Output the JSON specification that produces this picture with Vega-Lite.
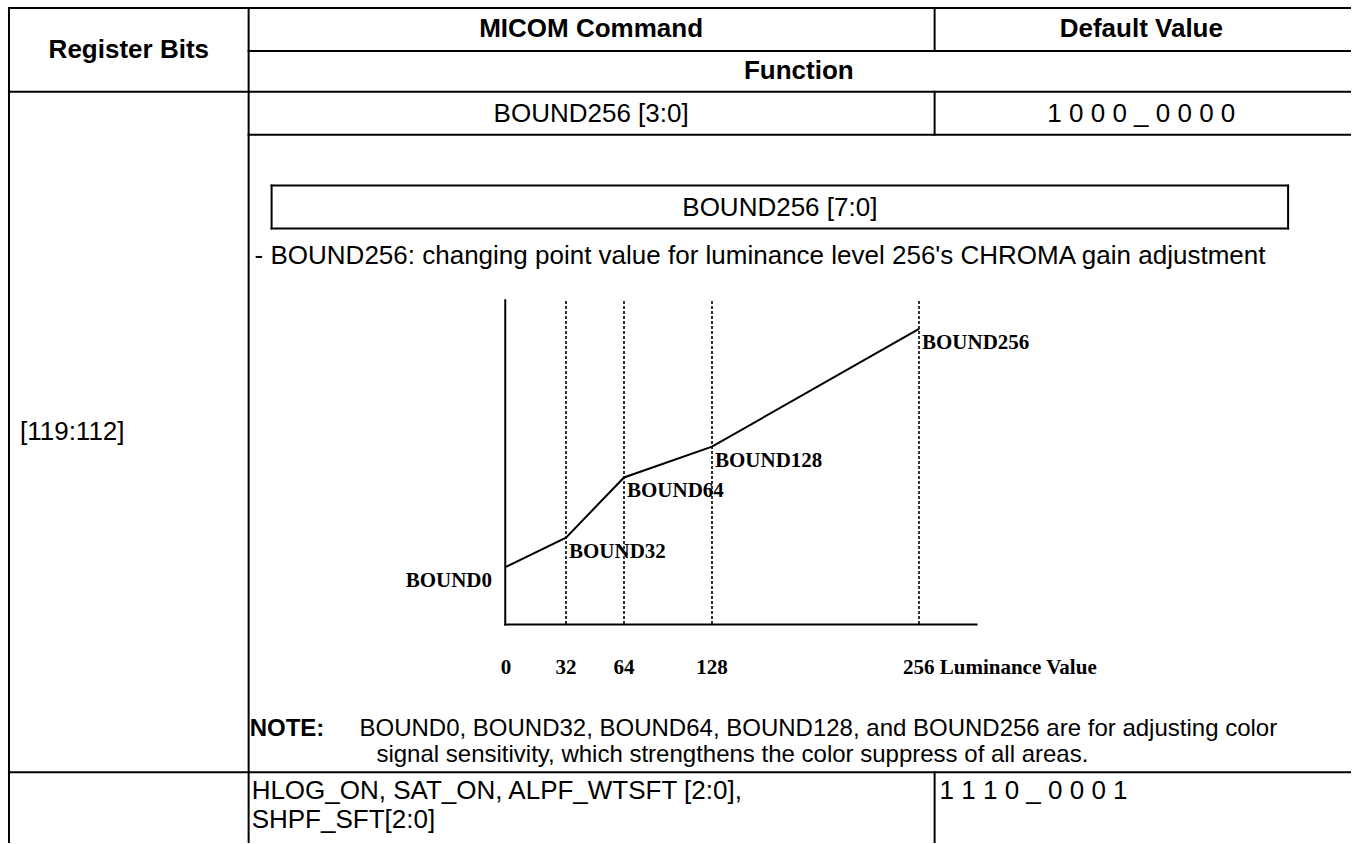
{
  "$schema": "https://vega.github.io/schema/vega-lite/v6.json",
  "width": 1352,
  "height": 844,
  "autosize": {"type": "fit", "contains": "padding"},
  "padding": 0,
  "background": "white",
  "config": {"view": {"stroke": null}},
  "datasets": {
    "grid": [
      {"x": 9, "y": 8, "x2": 1352, "y2": 8},
      {"x": 249, "y": 51, "x2": 1352, "y2": 51},
      {"x": 9, "y": 92, "x2": 1352, "y2": 92},
      {"x": 249, "y": 135, "x2": 1352, "y2": 135},
      {"x": 9, "y": 774, "x2": 1352, "y2": 774},
      {"x": 9, "y": 8, "x2": 9, "y2": 844},
      {"x": 249, "y": 8, "x2": 249, "y2": 844},
      {"x": 936, "y": 8, "x2": 936, "y2": 51},
      {"x": 936, "y": 92, "x2": 936, "y2": 135},
      {"x": 936, "y": 774, "x2": 936, "y2": 844},
      {"x": 272, "y": 186, "x2": 1290, "y2": 186},
      {"x": 272, "y": 229, "x2": 1290, "y2": 229},
      {"x": 272, "y": 186, "x2": 272, "y2": 229},
      {"x": 1290, "y": 186, "x2": 1290, "y2": 229},
      {"x": 506, "y": 301, "x2": 506, "y2": 626},
      {"x": 506, "y": 626, "x2": 978, "y2": 626}
    ],
    "texts": [
      {"role": "header", "x": 129, "y": 50, "text": "Register Bits"},
      {"role": "header", "x": 592, "y": 29, "text": "MICOM Command"},
      {"role": "header", "x": 1143, "y": 29, "text": "Default Value"},
      {"role": "header", "x": 800, "y": 71, "text": "Function"},
      {"role": "cell", "x": 592, "y": 114, "text": "BOUND256 [3:0]"},
      {"role": "cell", "x": 1143, "y": 114, "text": "1 0 0 0 _ 0 0 0 0"},
      {"role": "cell", "x": 781, "y": 208, "text": "BOUND256 [7:0]"},
      {"role": "cellLeft", "x": 20, "y": 433, "text": "[119:112]"},
      {"role": "cellLeft", "x": 255, "y": 257, "text": "- BOUND256: changing point value for luminance level 256's CHROMA gain adjustment"},
      {"role": "cellLeft", "x": 252, "y": 793, "text": "HLOG_ON, SAT_ON, ALPF_WTSFT [2:0],"},
      {"role": "cellLeft", "x": 252, "y": 822, "text": "SHPF_SFT[2:0]"},
      {"role": "cellLeft", "x": 941, "y": 793, "text": "1 1 1 0 _ 0 0 0 1"},
      {"role": "noteLabel", "x": 250, "y": 731, "text": "NOTE:"},
      {"role": "note", "x": 360, "y": 731, "text": "BOUND0, BOUND32, BOUND64, BOUND128, and BOUND256 are for adjusting color"},
      {"role": "note", "x": 377, "y": 757, "text": "signal sensitivity, which strengthens the color suppress of all areas."}
    ],
    "curve": [
      {"lum": 0, "gain": 18.2, "label": "BOUND0"},
      {"lum": 32, "gain": 27.2, "label": "BOUND32"},
      {"lum": 64, "gain": 45.7, "label": "BOUND64"},
      {"lum": 128, "gain": 55.2, "label": "BOUND128"},
      {"lum": 256, "gain": 91.4, "label": "BOUND256"}
    ],
    "guides": [
      {"lum": 32, "top": 100, "bottom": 0},
      {"lum": 64, "top": 100, "bottom": 0},
      {"lum": 128, "top": 100, "bottom": 0},
      {"lum": 256, "top": 100, "bottom": 0}
    ],
    "ticks": [
      {"lum": 0, "gain": 0, "tick": "0"},
      {"lum": 32, "gain": 0, "tick": "32"},
      {"lum": 64, "gain": 0, "tick": "64"},
      {"lum": 128, "gain": 0, "tick": "128"},
      {"lum": 256, "gain": 0, "tick": "256 Luminance Value"}
    ]
  },
  "layer": [
    {
      "encoding": {
        "x": {"field": "x", "type": "quantitative", "scale": {"domain": [0, 1352], "nice": false, "zero": false}, "axis": null},
        "y": {"field": "y", "type": "quantitative", "scale": {"domain": [0, 844], "reverse": true, "nice": false, "zero": false}, "axis": null}
      },
      "layer": [
        {
          "data": {"name": "grid"},
          "mark": {"type": "rule", "color": "black", "strokeWidth": 2, "strokeCap": "square"},
          "encoding": {"x2": {"field": "x2"}, "y2": {"field": "y2"}}
        },
        {
          "data": {"name": "texts"},
          "transform": [{"filter": "datum.role == 'header'"}],
          "mark": {"type": "text", "font": "Liberation Sans", "fontWeight": "bold", "fontSize": 26, "align": "center", "baseline": "middle", "color": "black"},
          "encoding": {"text": {"field": "text"}}
        },
        {
          "data": {"name": "texts"},
          "transform": [{"filter": "datum.role == 'cell'"}],
          "mark": {"type": "text", "font": "Liberation Sans", "fontSize": 26, "align": "center", "baseline": "middle", "color": "black"},
          "encoding": {"text": {"field": "text"}}
        },
        {
          "data": {"name": "texts"},
          "transform": [{"filter": "datum.role == 'cellLeft'"}],
          "mark": {"type": "text", "font": "Liberation Sans", "fontSize": 26, "align": "left", "baseline": "middle", "color": "black"},
          "encoding": {"text": {"field": "text"}}
        },
        {
          "data": {"name": "texts"},
          "transform": [{"filter": "datum.role == 'noteLabel'"}],
          "mark": {"type": "text", "font": "Liberation Sans", "fontWeight": "bold", "fontSize": 24, "align": "left", "baseline": "middle", "color": "black"},
          "encoding": {"text": {"field": "text"}}
        },
        {
          "data": {"name": "texts"},
          "transform": [{"filter": "datum.role == 'note'"}],
          "mark": {"type": "text", "font": "Liberation Sans", "fontSize": 24, "align": "left", "baseline": "middle", "color": "black"},
          "encoding": {"text": {"field": "text"}}
        }
      ]
    },
    {
      "encoding": {
        "x": {"field": "lum", "type": "quantitative", "scale": {"domain": [0, 32, 64, 128, 256], "range": [506, 566, 624, 712, 919], "nice": false, "zero": false}, "axis": null}
      },
      "layer": [
        {
          "data": {"name": "guides"},
          "mark": {"type": "rule", "color": "black", "strokeWidth": 1.6, "strokeDash": [3, 2]},
          "encoding": {
            "y": {"field": "top", "type": "quantitative", "scale": {"domain": [0, 100], "range": [626, 301], "nice": false, "zero": false}, "axis": null},
            "y2": {"field": "bottom"}
          }
        },
        {
          "data": {"name": "curve"},
          "mark": {"type": "line", "color": "black", "strokeWidth": 2},
          "encoding": {
            "y": {"field": "gain", "type": "quantitative", "scale": {"domain": [0, 100], "range": [626, 301], "nice": false, "zero": false}, "axis": null}
          }
        },
        {
          "data": {"name": "curve"},
          "transform": [{"filter": "datum.lum > 0"}],
          "mark": {"type": "text", "font": "Liberation Serif", "fontWeight": "bold", "fontSize": 21, "align": "left", "baseline": "middle", "dx": 3, "dy": 14, "color": "black"},
          "encoding": {
            "y": {"field": "gain", "type": "quantitative", "axis": null},
            "text": {"field": "label"}
          }
        },
        {
          "data": {"name": "curve"},
          "transform": [{"filter": "datum.lum == 0"}],
          "mark": {"type": "text", "font": "Liberation Serif", "fontWeight": "bold", "fontSize": 21, "align": "right", "baseline": "middle", "dx": -14, "dy": 14, "color": "black"},
          "encoding": {
            "y": {"field": "gain", "type": "quantitative", "axis": null},
            "text": {"field": "label"}
          }
        },
        {
          "data": {"name": "ticks"},
          "transform": [{"filter": "datum.lum < 256"}],
          "mark": {"type": "text", "font": "Liberation Serif", "fontWeight": "bold", "fontSize": 21, "align": "center", "baseline": "middle", "dy": 42, "color": "black"},
          "encoding": {
            "y": {"field": "gain", "type": "quantitative", "axis": null},
            "text": {"field": "tick"}
          }
        },
        {
          "data": {"name": "ticks"},
          "transform": [{"filter": "datum.lum == 256"}],
          "mark": {"type": "text", "font": "Liberation Serif", "fontWeight": "bold", "fontSize": 21, "align": "left", "baseline": "middle", "dx": -16, "dy": 42, "color": "black"},
          "encoding": {
            "y": {"field": "gain", "type": "quantitative", "axis": null},
            "text": {"field": "tick"}
          }
        }
      ]
    }
  ],
  "resolve": {"scale": {"x": "independent", "y": "independent"}}
}
